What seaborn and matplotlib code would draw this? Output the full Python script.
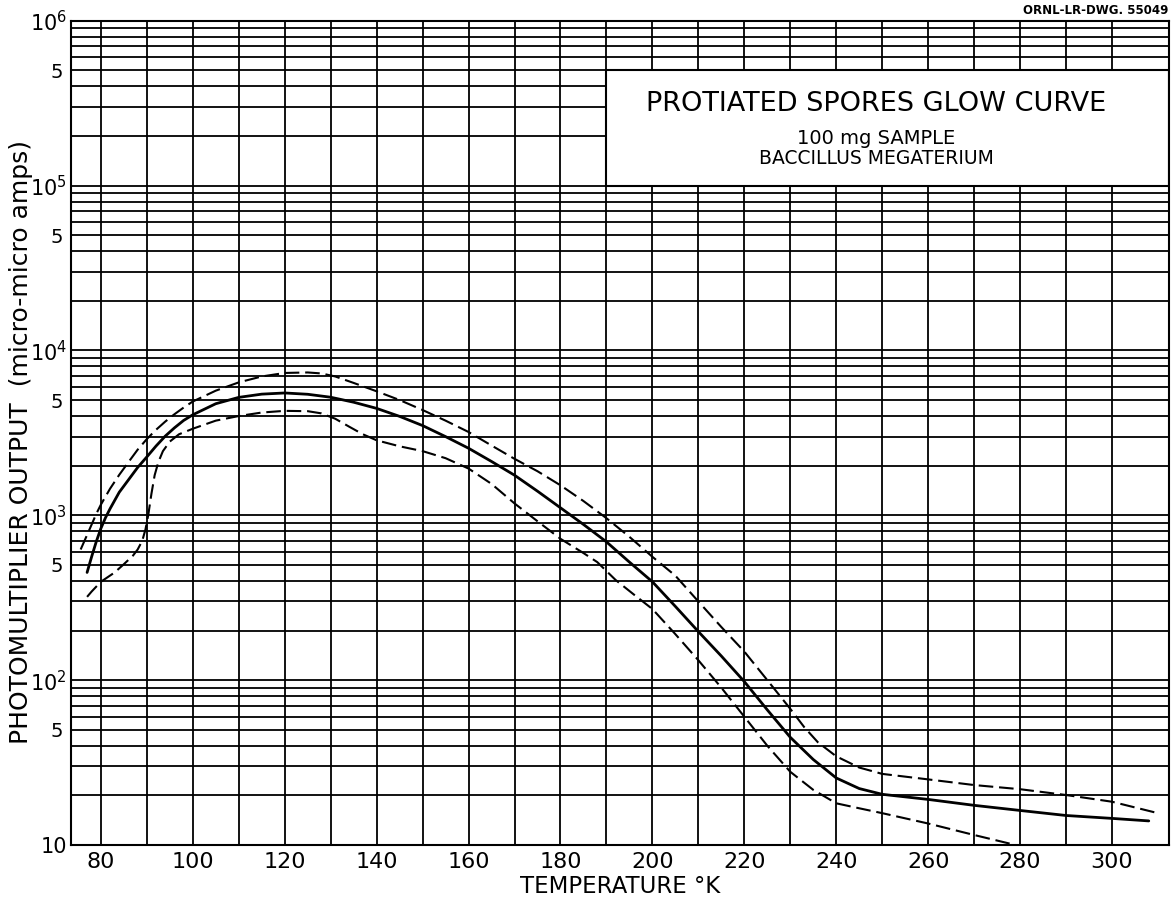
import matplotlib
matplotlib.use("Agg")
import matplotlib.pyplot as plt
import numpy as np
import pandas as pd
import seaborn as sns
from matplotlib.patches import Rectangle
from matplotlib.ticker import FixedLocator, FixedFormatter

# Glow curve of protiated spores: mean trace and upper/lower envelope
temp_mean = [77, 78, 79, 80, 81, 82, 84, 86, 88, 90, 92, 94, 96, 98, 100, 105,
             110, 115, 120, 125, 130, 135, 140, 145, 150, 155, 160, 165, 170,
             175, 180, 185, 190, 195, 200, 205, 210, 215, 220, 225, 230, 235,
             240, 245, 250, 260, 270, 280, 290, 300, 308]
output_mean = [450, 562, 692, 832, 966, 1096, 1380, 1640, 1950, 2260, 2630,
               3020, 3390, 3760, 4070, 4750, 5190, 5430, 5520, 5420, 5200,
               4850, 4450, 3980, 3500, 3000, 2550, 2120, 1750, 1400, 1110,
               880, 690, 520, 395, 280, 197, 140, 98, 66, 45, 33, 25.5, 22,
               20.3, 18.9, 17.4, 16.2, 15.1, 14.5, 14.0]

temp_upper = [75.6, 77, 78, 79, 80, 82, 84, 86, 88, 90, 92, 94, 96, 98, 100,
              105, 110, 115, 120, 125, 128, 131, 135, 140, 145, 150, 155, 160,
              165, 170, 175, 180, 185, 190, 195, 200, 205, 210, 215, 220, 225,
              230, 233, 236, 240, 245, 250, 260, 270, 280, 290, 300, 310]
output_upper = [620, 760, 880, 1020, 1160, 1450, 1760, 2100, 2500, 2900, 3300,
                3700, 4100, 4500, 4900, 5700, 6400, 6950, 7300, 7350, 7250,
                6950, 6350, 5650, 5000, 4350, 3750, 3200, 2650, 2200, 1850,
                1520, 1220, 960, 740, 560, 430, 300, 210, 149, 100, 67, 52,
                42, 34.5, 29.5, 27, 25, 23.1, 21.8, 20.1, 18.3, 15.6]

temp_lower = [77, 78, 80, 83, 85, 87, 88, 89, 89.7, 90.3, 91, 91.7, 92.5,
              93.5, 95, 97, 100, 105, 110, 115, 120, 125, 128, 131, 134, 137,
              140, 145, 150, 155, 160, 165, 170, 175, 180, 185, 188, 192, 196,
              200, 205, 210, 215, 220, 225, 230, 235, 240, 245, 250, 260, 270,
              279]
output_lower = [320, 345, 395, 450, 505, 570, 620, 700, 820, 1000, 1350, 1750,
                2100, 2450, 2800, 3100, 3350, 3750, 4000, 4200, 4300, 4280,
                4150, 3850, 3450, 3100, 2850, 2620, 2450, 2220, 1920, 1550,
                1180, 920, 720, 590, 520, 405, 330, 270, 190, 132, 90, 60, 40,
                27.8, 21.6, 17.9, 16.7, 15.6, 13.5, 11.5, 10]

x_label_ticks = [80, 100, 120, 140, 160, 180, 200, 220, 240, 260, 280, 300]
x_between_ticks = [90, 110, 130, 150, 170, 190, 210, 230, 250, 270, 290]
y_decades = [10, 100, 1000, 10000, 100000, 1000000]
y_decade_labels = ["10", "10$^2$", "10$^3$", "10$^4$", "10$^5$", "10$^6$"]
y_sub_factors = [2, 3, 4, 5, 6, 7, 8, 9]
y_sub_labelled = 5

title_main = "PROTIATED SPORES GLOW CURVE"
title_sub1 = "100 mg SAMPLE"
title_sub2 = "BACCILLUS MEGATERIUM"
drawing_no = "ORNL-LR-DWG. 55049"

sns.set_theme(style="white")
plt.rcParams["font.family"] = ["DejaVu Sans"]

W, H = 1172, 906
fig = plt.figure(figsize=(W / 100, H / 100), dpi=100)
left_px, right_px, top_px, bottom_px = 71, 1169, 20.7, 845
ax = fig.add_axes([left_px / W, 1 - bottom_px / H,
                   (right_px - left_px) / W, (bottom_px - top_px) / H])

mean_df = pd.DataFrame({"temperature": temp_mean, "output": output_mean})
upper_df = pd.DataFrame({"temperature": temp_upper, "output": output_upper})
lower_df = pd.DataFrame({"temperature": temp_lower, "output": output_lower})

sns.lineplot(data=mean_df, x="temperature", y="output", ax=ax, color="black",
             lw=2.0, sort=False, estimator=None, zorder=3)
for env in (upper_df, lower_df):
    sns.lineplot(data=env, x="temperature", y="output", ax=ax, color="black",
                 lw=1.5, linestyle=(0, (7, 2.8)), sort=False, estimator=None,
                 zorder=3)

ax.set_yscale("log")
x_left, x_right = 73.5, 312.4
ax.set_xlim(x_left, x_right)
ax.set_ylim(10, 1e6)

ax.xaxis.set_major_locator(FixedLocator(x_label_ticks))
ax.xaxis.set_minor_locator(FixedLocator(x_between_ticks))
ax.set_xticklabels([str(t) for t in x_label_ticks])

minor_pos = [f * d for d in y_decades[:-1] for f in y_sub_factors]
minor_lab = [("5" if f == y_sub_labelled else "") for d in y_decades[:-1]
             for f in y_sub_factors]
ax.yaxis.set_major_locator(FixedLocator(y_decades))
ax.yaxis.set_major_formatter(FixedFormatter(y_decade_labels))
ax.yaxis.set_minor_locator(FixedLocator(minor_pos))
ax.yaxis.set_minor_formatter(FixedFormatter(minor_lab))

ax.grid(which="both", axis="both", color="black", lw=1.3)
ax.tick_params(axis="x", which="both", length=0, labelsize=16, pad=5,
               colors="black")
ax.tick_params(axis="y", which="major", length=0, labelsize=15, pad=3,
               colors="black")
ax.tick_params(axis="y", which="minor", length=0, labelsize=14, pad=6,
               colors="black")
for s in ax.spines.values():
    s.set_color("black")
    s.set_linewidth(1.5)

ax.set_xlabel("TEMPERATURE °K", fontsize=16.5, color="black", labelpad=2)
ax.set_ylabel("PHOTOMULTIPLIER OUTPUT  (micro-micro amps)", fontsize=18,
              color="black")
ax.yaxis.set_label_coords(-0.035, 0.489)

# title panel sitting over the grid in the upper right
ax.add_patch(Rectangle((190, 1e5), x_right - 190, 4e5, facecolor="white",
                       edgecolor="black", lw=1.5, zorder=2))
fig.text(876 / W, 1 - 104 / H, title_main, ha="center", va="center",
         fontsize=19.5, color="black")
fig.text(876 / W, 1 - 139 / H, title_sub1, ha="center", va="center",
         fontsize=14, color="black")
fig.text(876 / W, 1 - 158 / H, title_sub2, ha="center", va="center",
         fontsize=13.5, color="black")
fig.text(1168 / W, 1 - 10 / H, drawing_no, ha="right", va="center",
         fontsize=8.5, fontweight="bold", color="black")

fig.savefig("out.png", dpi=100, facecolor="white")
